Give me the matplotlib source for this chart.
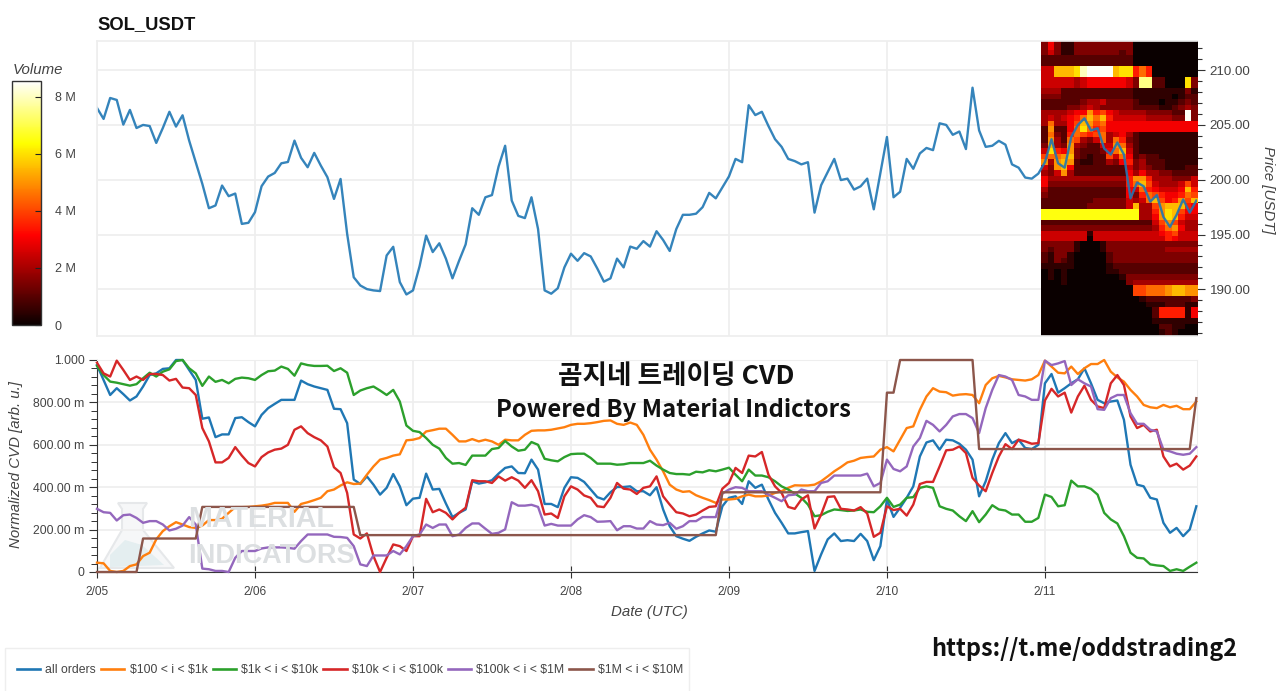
import numpy as np
import matplotlib
matplotlib.use('Agg')
import matplotlib.pyplot as plt
from matplotlib.patches import Rectangle, Polygon
from matplotlib.lines import Line2D
from matplotlib.cm import ScalarMappable
from matplotlib.colors import Normalize
from matplotlib.ticker import FixedLocator, FuncFormatter, MultipleLocator

plt.rcParams['font.family'] = ['Liberation Sans', 'DejaVu Sans']

W, H = 1280, 691
GRAY = '#444444'
GRID = '#eeeeee'
KR = ['Noto Sans CJK KR', 'DejaVu Sans']

day_labels = ['2/05', '2/06', '2/07', '2/08', '2/09', '2/10', '2/11']
legend_labels = ['all orders', r'\$100 < i < \$1k', r'\$1k < i < \$10k', r'\$10k < i < \$100k',
                 r'\$100k < i < \$1M', r'\$1M < i < \$10M']
colors = ['#1f77b4', '#ff7f0e', '#2ca02c', '#d62728', '#9467bd', '#8c564b']

# hourly price
price = [206.55, 205.55, 207.46, 207.28, 205.03, 206.37, 204.72, 205.0, 204.9, 203.36, 204.72, 206.2,
         204.85, 205.88, 203.57, 201.6, 199.62, 197.4, 197.65, 199.47, 198.5, 198.74, 195.97, 196.07,
         197.04, 199.41, 200.29, 200.62, 201.5, 201.62, 203.57, 202.0, 201.14, 202.45, 201.29, 200.23,
         198.25, 200.07, 195.06, 191.1, 190.35, 190.02, 189.9, 189.84, 193.09, 193.88, 190.66, 189.53,
         189.9, 192.1, 194.9, 193.4, 194.2, 192.8, 191.0, 192.6, 194.1, 197.4, 196.8, 198.4,
         198.6, 201.2, 203.1, 198.1, 196.7, 196.5, 198.4, 195.5, 189.9, 189.6, 190.1, 192.0,
         193.25, 192.6, 193.3, 193.0, 191.9, 190.7, 191.0, 192.8, 192.0, 193.9, 193.7, 194.4,
         193.9, 195.3, 194.5, 193.5, 195.5, 196.8, 196.8, 196.9, 197.5, 198.8, 198.3, 199.3,
         200.3, 201.9, 201.6, 206.8, 205.9, 206.2, 204.9, 203.7, 203.0, 201.9, 201.7, 201.4,
         201.6, 197.0, 199.5, 200.7, 201.9, 199.97, 200.1, 199.1, 199.4, 200.1, 197.3, 200.6,
         203.9, 198.4, 198.9, 201.9, 201.0, 202.4, 202.9, 202.7, 205.15, 205.0, 204.1, 204.4,
         202.8, 208.4, 204.5, 203.0, 203.1, 203.55, 203.2, 201.4, 201.1, 200.2, 200.1, 200.56,
         201.6, 203.7, 201.5, 201.1, 203.9, 205.0, 205.6, 204.5, 204.7, 202.85, 202.3, 203.4,
         202.3, 198.3, 199.75, 199.4, 198.0, 198.6, 196.6, 195.7, 196.8, 198.2, 197.0, 198.1]

# hourly normalized CVD per order size
cvd_all = [.976, .906, .835, .867, .839, .809, .828, .875, .929, .937, .958, .961, 1.0, 1.0, .953, .906,
           .723, .729, .636, .649, .649, .726, .730, .707, .687, .741, .773, .793, .812, .812, .812, .903,
           .886, .875, .867, .859, .770, .768, .702, .436, .415, .451, .412, .365, .397, .462, .404, .315,
           .346, .350, .464, .389, .392, .323, .259, .279, .295, .428, .417, .423, .433, .464, .491, .498,
           .467, .466, .530, .483, .321, .321, .306, .397, .447, .444, .425, .389, .353, .342, .376, .401,
           .401, .404, .381, .381, .362, .400, .295, .216, .169, .157, .147, .166, .182, .196, .190, .310,
           .350, .357, .321, .428, .397, .412, .342, .279, .232, .182, .182, .188, .193, .005, .083, .154,
           .182, .146, .150, .146, .180, .146, .056, .122, .342, .260, .303, .350, .404, .545, .611, .621,
           .577, .624, .621, .605, .577, .530, .357, .428, .530, .608, .655, .608, .624, .585, .580, .600,
           .890, .934, .846, .867, .890, .909, .961, .890, .812, .796, .804, .809, .718, .506, .412, .404,
           .350, .342, .232, .185, .208, .169, .201, .310]
cvd_100_1k = [.044, .041, .005, 0, .005, .028, .036, .075, .091, .154, .193, .216, .235, .224, .212, .208,
              .219, .245, .245, .251, .279, .306, .306, .307, .310, .313, .318, .326, .326, .326, .284, .321,
              .329, .339, .350, .381, .389, .408, .423, .415, .417, .459, .498, .530, .538, .549, .555, .621,
              .624, .632, .663, .669, .676, .676, .647, .616, .616, .627, .616, .624, .616, .600, .624, .621,
              .621, .647, .666, .668, .668, .671, .677, .683, .694, .699, .699, .702, .707, .713, .715, .699,
              .694, .705, .694, .647, .577, .530, .475, .412, .389, .378, .381, .362, .350, .339, .326, .342,
              .342, .345, .357, .365, .357, .357, .361, .373, .381, .397, .409, .408, .408, .412, .428, .451,
              .475, .495, .517, .525, .538, .542, .545, .577, .589, .569, .624, .679, .687, .765, .828, .867,
              .851, .848, .832, .837, .839, .835, .796, .882, .914, .925, .918, .909, .906, .903, .909, .929,
              .997, .969, .940, .937, .969, .934, .961, .981, .981, 1.0, .945, .918, .898, .859, .828, .788,
              .777, .773, .788, .777, .784, .768, .768, .804]
cvd_1k_10k = [.972, .929, .898, .893, .886, .879, .886, .914, .940, .922, .945, .956, .995, 1.0, .961, .937,
              .878, .922, .897, .906, .890, .911, .917, .914, .906, .929, .947, .950, .969, .958, .926, .984,
              .976, .972, .972, .973, .948, .961, .940, .835, .856, .867, .875, .856, .835, .859, .804, .691,
              .666, .660, .632, .600, .582, .538, .511, .514, .505, .549, .549, .549, .580, .585, .618, .592,
              .572, .577, .613, .600, .534, .527, .522, .542, .556, .558, .558, .538, .511, .511, .511, .506,
              .508, .514, .514, .514, .525, .502, .483, .467, .462, .462, .459, .473, .470, .480, .475, .483,
              .492, .459, .428, .483, .455, .455, .447, .428, .404, .389, .370, .350, .318, .263, .268, .284,
              .295, .292, .288, .290, .295, .284, .282, .310, .350, .307, .318, .350, .353, .397, .404, .397,
              .310, .298, .290, .263, .240, .287, .235, .271, .315, .295, .290, .271, .271, .237, .237, .255,
              .365, .354, .310, .315, .431, .404, .404, .392, .365, .279, .248, .229, .169, .091, .067, .064,
              .036, .031, .028, .005, .013, .005, .025, .044]
cvd_10k_100k = [.987, .937, .922, .997, .953, .906, .922, .906, .934, .934, .929, .903, .911, .870, .867, .835,
                .679, .616, .517, .517, .538, .589, .549, .514, .498, .542, .564, .577, .582, .600, .671, .687,
                .655, .636, .621, .592, .494, .467, .373, .177, .158, .182, .075, 0, .067, .130, .122, .099,
                .169, .169, .345, .282, .295, .279, .248, .279, .303, .433, .428, .428, .420, .451, .431, .447,
                .431, .397, .433, .381, .271, .276, .255, .357, .404, .389, .361, .350, .310, .306, .350, .420,
                .393, .389, .368, .397, .404, .451, .357, .318, .282, .276, .263, .271, .290, .307, .310, .393,
                .420, .491, .467, .549, .545, .566, .459, .404, .373, .307, .298, .342, .362, .205, .271, .354,
                .357, .298, .295, .290, .306, .276, .166, .185, .310, .292, .298, .266, .318, .415, .425, .425,
                .498, .574, .577, .592, .561, .444, .408, .381, .467, .545, .603, .580, .624, .616, .605, .608,
                .809, .864, .828, .846, .752, .828, .879, .812, .781, .773, .890, .929, .882, .734, .679, .694,
                .663, .671, .545, .498, .511, .483, .502, .545]
cvd_100k_1m = [.298, .282, .279, .243, .268, .271, .255, .232, .240, .240, .224, .196, .204, .219, .259, .224,
               .016, .013, .005, .005, 0, .067, .099, .099, .099, .111, .116, .116, .116, .114, .110, .146,
               .177, .177, .177, .177, .166, .165, .161, .122, .036, .028, .078, .078, .078, .099, .083, .122,
               .169, .177, .224, .208, .224, .224, .169, .177, .208, .229, .229, .204, .180, .185, .201, .329,
               .313, .313, .317, .307, .219, .227, .219, .219, .219, .248, .268, .259, .237, .238, .240, .197,
               .216, .216, .205, .205, .240, .224, .221, .232, .204, .216, .240, .240, .259, .259, .259, .370,
               .389, .400, .397, .381, .381, .381, .365, .350, .334, .362, .365, .389, .381, .381, .420, .428,
               .455, .455, .455, .455, .455, .464, .404, .420, .530, .486, .475, .498, .592, .632, .713, .694,
               .663, .694, .734, .745, .745, .726, .655, .773, .859, .929, .922, .906, .835, .828, .812, .812,
               .997, .976, .984, .995, .882, .909, .890, .875, .768, .765, .820, .835, .835, .749, .699, .699,
               .671, .663, .577, .569, .558, .553, .558, .589]
cvd_1m_10m = [0.0] * 7 + [.158] * 9 + [.307] * 24 + [.174] * 55 + [.376] * 25 + [.846] * 2 + [1.0] * 12 + [.58] * 33 + [.82]
series = [cvd_all, cvd_100_1k, cvd_1k_10k, cvd_10k_100k, cvd_100k_1m, cvd_1m_10m]

# volume heatmap, one string per 0.5 USD price bin (top first), one char per hour, unit 0.5 M
heat_rows = [
    '363113333333330000000000',
    '363113333333330000000000',
    '353113333333230000000000',
    '222222222222220000000000',
    '222222222222220000000000',
    '55bbbcghhhhbcc7970000000',
    '55bbbcghhhhbcc7970000000',
    '555554566666653ff22000c3',
    '555554566666653ff22000c3',
    '444222222222221111111131',
    '333222222222221111110122',
    '222222344533332111011232',
    '222233454333332222112343',
    '4444566a78654444333322h3',
    '4545679b9b755555444433h3',
    '494468ba8966666666666666',
    '2a2269c97866666666666666',
    '293279878945642111111111',
    '2a4298435949732111111111',
    '3b43a432255a942111111111',
    '5c76a3222369b52111111111',
    '899ab3212285962322111111',
    'a4aba2112243673422211111',
    '53ab6222222225' + '3432211122',
    '435a4222222226' + '4644332222',
    '6444444444444' + '7aa74443335',
    '63333333333337' + '9b85444585',
    '42222222222226' + '59765556b7',
    '32222222222226' + '3798766798',
    '22222222333335' + '459b867a8b',
    '22222223333335' + 'b448abbb76',
    'ddddddddddddddd447acb866',
    'ddddddddddddddd446acb755',
    '2222222222222222258a8544',
    '33333333333333333479a644',
    '555555515555555555678555',
    '555555505555555555576555',
    '333331000133333333333333',
    '323331000133333333344444',
    '213310000023333333333333',
    '213210000023333333333333',
    '111110000012222222222222',
    '010100000011222222222222',
    '010100000000133333333333',
    '000100000000034444444444',
    '0000000000000088999abbaa',
    '0000000000000088999abbaa',
    '000000000000000122222223',
    '000000000000000011122211',
    '000000000000000002777716',
    '000000000000000002777716',
    '000000000000000001111111',
    '000000000000000000221100',
    '000000000000000000121000',
    '000000000000000000010000',
]
heat = np.array([[int(c, 36) * 0.5 for c in r] for r in heat_rows])

vol_max = 8.57
vol_ticks = [0, 2, 4, 6, 8]
cvd_ticks = [0, .2, .4, .6, .8, 1.0]
cvd_tick_labels = ['0', '200.00 m', '400.00 m', '600.00 m', '800.00 m', '1.000']


def box(left, top, right, bottom):
    return [left / W, 1 - bottom / H, (right - left) / W, (bottom - top) / H]


hours = np.arange(168)
x_max = 167.1
day_hours = np.arange(0, 168, 24)

fig = plt.figure(figsize=(W / 100, H / 100), dpi=100)

# price panel
ax = fig.add_axes(box(97, 41, 1197, 336))
ax.imshow(heat, cmap='hot', vmin=0, vmax=vol_max, aspect='auto', interpolation='nearest',
          extent=[143.4, x_max, 185.363, 212.863], zorder=1)
ax.plot(hours, price, color=colors[0], lw=1.7, alpha=0.9, zorder=2, solid_joinstyle='round')
ax.set_xlim(0, x_max)
ax.set_ylim(185.74, 212.66)
ax.set_xticks(day_hours)
ax.tick_params(axis='x', length=0, labelbottom=False)
ax.yaxis.tick_right()
ax.yaxis.set_major_locator(MultipleLocator(5))
ax.yaxis.set_minor_locator(MultipleLocator(1))
ax.yaxis.set_major_formatter(FuncFormatter(lambda v, p: '%.2f' % v))
ax.tick_params(axis='y', which='major', length=6, width=0.8, color='#333333', labelcolor=GRAY, labelsize=9.6, pad=3)
ax.tick_params(axis='y', which='minor', length=3.5, width=0.8, color='#333333')
ax.grid(True, color=GRID, lw=1.2, zorder=0)
ax.set_axisbelow(True)
for s in ax.spines.values():
    s.set_color(GRID)
    s.set_linewidth(1.2)
ax.spines['right'].set_visible(False)
fig.text(1268 / W, 1 - 190 / H, 'Price [USDT]', rotation=-90, style='italic', color=GRAY, fontsize=10.8,
         ha='center', va='center')
fig.text(97 / W, 1 - 25 / H, 'SOL_USDT', fontweight='bold', fontsize=13.2, color='#111111', va='center')

# volume colorbar
cax = fig.add_axes(box(12, 80.7, 41, 325))
cb = fig.colorbar(ScalarMappable(Normalize(0, vol_max), 'hot'), cax=cax)
cb.set_ticks(vol_ticks)
cb.set_ticklabels(['0', '2 M', '4 M', '6 M', '8 M'])
cax.tick_params(direction='in', length=4, width=0.8, color='#222222', labelcolor=GRAY, labelsize=9, pad=10, right=True)
cb.outline.set_edgecolor('#333333')
cb.outline.set_linewidth(1)
fig.text(12.5 / W, 1 - 70 / H, 'Volume', style='italic', color=GRAY, fontsize=10.8, va='center')

# cvd panel
bx = fig.add_axes(box(97, 360, 1197, 572))
bx.set_xlim(0, x_max)
bx.set_ylim(0, 1)
to_px = matplotlib.transforms.Affine2D().scale(1, -1).translate(0, H)

# watermark
flask_xy = [(118, 503), (147, 503), (143, 509), (143, 530), (174, 568), (100, 568), (122, 530), (122, 509)]
bx.add_patch(Polygon(flask_xy, closed=True, transform=to_px, facecolor='#f6f7f8', edgecolor='#e6e8ea',
                     lw=1.5, zorder=0.5))
bx.add_patch(Polygon([(110, 555), (125, 540), (142, 545), (164, 565), (110, 567)], closed=True, transform=to_px,
                     facecolor='#e4eef0', edgecolor='none', zorder=0.6))
fig.text(188 / W, 1 - 519 / H, 'MATERIAL', fontweight='bold', fontsize=20.7, color='#dcdfe1', va='center', zorder=0)
fig.text(188 / W, 1 - 556 / H, 'INDICATORS', fontweight='bold', fontsize=19.5, color='#dcdfe1', va='center', zorder=0)
bx.patch.set_alpha(0)

for s, c in zip(series, colors):
    bx.plot(hours, s, color=c, lw=1.7, clip_on=False, zorder=3, solid_joinstyle='round')

bx.set_xticks(day_hours)
bx.set_xticklabels(day_labels)
bx.yaxis.set_major_locator(FixedLocator(cvd_ticks))
bx.set_yticklabels(cvd_tick_labels)
bx.yaxis.set_minor_locator(MultipleLocator(0.04))
bx.tick_params(axis='x', direction='inout', length=8, width=0.8, color='#333333', labelcolor=GRAY, labelsize=8.6, pad=6)
bx.tick_params(axis='y', which='major', length=6, width=0.8, color='#333333', labelcolor=GRAY, labelsize=8.8, pad=3)
bx.tick_params(axis='y', which='minor', length=4, width=0.7, color='#333333')
bx.grid(True, color=GRID, lw=1.2, zorder=0)
bx.set_axisbelow(True)
bx.spines['top'].set_color(GRID)
bx.spines['right'].set_color(GRID)
bx.spines['left'].set_color('#333333')
bx.spines['bottom'].set_color('#333333')
fig.text(16 / W, 1 - 465 / H, 'Normalized CVD [arb. u.]', rotation=90, style='italic', color=GRAY, fontsize=10.8,
         ha='center', va='center')
fig.text(649 / W, 1 - 612 / H, 'Date (UTC)', style='italic', color=GRAY, fontsize=10.8, ha='center', va='center')

# overlaid captions
fig.text(676 / W, 1 - 376 / H, '곰지네 트레이딩 CVD', family=KR, fontweight='bold', fontsize=19.2, color='#111111',
         ha='center', va='center', zorder=5)
fig.text(673.5 / W, 1 - 410 / H, 'Powered By Material Indictors', family=KR, fontweight='bold', fontsize=17.2,
         color='#111111', ha='center', va='center', zorder=5)
fig.text(1084 / W, 1 - 649 / H, 'https://t.me/oddstrading2', family=KR, fontweight='bold', fontsize=16.9,
         color='#111111', ha='center', va='center', zorder=5)

# legend
fig.add_artist(Rectangle((5 / W, -0.01), 684 / W, 1 - 648 / H + 0.01, transform=fig.transFigure,
                         facecolor='white', edgecolor='#eeeeee', lw=1))
handles = [Line2D([], [], color=c, lw=1.9) for c in colors]
fig.legend(handles, legend_labels, ncol=6, loc='center left', bbox_to_anchor=(17 / W, 1 - 670 / H), frameon=False,
           borderpad=0, borderaxespad=0, fontsize=8.8, labelcolor=GRAY, handlelength=1.9, handletextpad=0.42,
           columnspacing=0.42)

fig.savefig('out.png', dpi=100)
